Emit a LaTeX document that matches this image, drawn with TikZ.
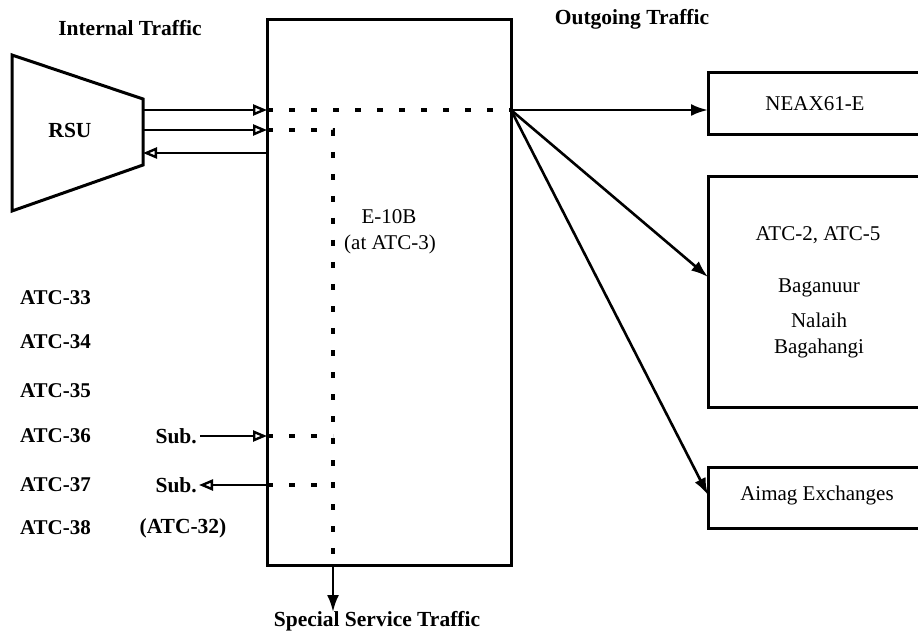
\documentclass[tikz,border=0pt]{standalone}
\usepackage{fontspec}
\setmainfont{Liberation Serif}
\usetikzlibrary{arrows.meta}

\begin{document}
\begin{tikzpicture}[x=1pt,y=-1pt,
  lbl/.style={font=\fontsize{21}{24}\selectfont, inner sep=0pt},
  hdr/.style={font=\fontsize{21.5}{24}\selectfont\bfseries, inner sep=0pt},
  atc/.style={font=\fontsize{21}{24}\selectfont\bfseries, inner sep=0pt, anchor=east},
  frame/.style={line width=3pt, line join=miter},
  flow/.style={line width=2.4pt, -{Triangle[open, length=14pt, width=11pt, line width=2.4pt]}},
  outflow/.style={line width=2.6pt, -{Latex[length=17pt, width=12pt]}},
  dots/.style={line width=3.5pt, dash pattern=on 6pt off 16pt}
]
\useasboundingbox (0,0) rectangle (918,644);
\fill[white] (0,0) rectangle (918,644);

% switching exchange E-10B
\node[frame, draw, minimum width=244pt, minimum height=545pt, inner sep=0pt] (sw) at (389,292.5) {};
\node[lbl] (swname) at (389,217) {E-10B};
\node[lbl] (swsite) at (390,244) {(at ATC-3)};

% remote subscriber unit
\draw[frame] (12,55) -- (143,99) -- (143,165) -- (12,211) -- cycle;
\node[hdr] (rsu) at (70,130) {RSU};

% headings
\node[hdr] (intl) at (130,28) {Internal Traffic};
\node[hdr] (outg) at (632,19) {Outgoing Traffic};
\node[hdr] (spec) at (377,621) {Special Service Traffic};

% destination exchanges (open to the right)
\draw[frame] (918,73) -- (708,73) -- (708,135) -- (918,135);
\draw[frame] (918,177) -- (708,177) -- (708,407) -- (918,407);
\draw[frame] (918,467) -- (708,467) -- (708,528) -- (918,528);
\node[lbl] (neax) at (815,104) {NEAX61-E};
\node[lbl] (atc25) at (818,235) {ATC-2, ATC-5};
\node[lbl] (bag) at (819,288) {Baganuur};
\node[lbl] (nal) at (819,320) {Nalaih};
\node[lbl] (bgh) at (819,348) {Bagahangi};
\node[lbl] (aimag) at (817,495) {Aimag Exchanges};

% local exchanges
\node[atc] (a33) at (91,298) {ATC-33};
\node[atc] (a34) at (91,342) {ATC-34};
\node[atc] (a35) at (91,391) {ATC-35};
\node[atc] (a36) at (91,436) {ATC-36};
\node[atc] (a37) at (91,485) {ATC-37};
\node[atc] (a38) at (91,528) {ATC-38};
\node[hdr] (a32) at (183,528) {(ATC-32)};
\node[hdr, anchor=east] (sub1) at (197,436) {Sub.};
\node[hdr, anchor=east] (sub2) at (197,485) {Sub.};

% connection points
\coordinate (r1) at (143,110);
\coordinate (r2) at (143,130);
\coordinate (r3) at (143,153);
\coordinate (s1) at (267,110);
\coordinate (s2) at (267,130);
\coordinate (s3) at (267,153);
\coordinate (hub) at (511,110);
\coordinate (turn) at (333,130);
\coordinate (down) at (333,565);
\coordinate (exit) at (333,612);
\coordinate (u1) at (267,436);
\coordinate (u2) at (267,485);
\coordinate (v1) at (333,436);
\coordinate (v2) at (333,485);
\coordinate (neaxin) at (708,110);
\coordinate (atcin) at (708,277);
\coordinate (aimagin) at (708,495);

% internal traffic to and from the RSU
\draw[flow] (r1) -- (s1);
\draw[flow] (r2) -- (s2);
\draw[flow] (s3) -- (r3);

% routes through the switch
\draw[dots] (s1) -- (hub);
\draw[dots] (s2) -- (turn) -- (down);
\draw[dots] (u1) -- (v1);
\draw[dots] (u2) -- (v2);
\draw[outflow] (down) -- (exit);

% subscriber lines
\draw[flow, line width=1.8pt] (sub1.east) ++(3,0) -- (u1);
\draw[flow, line width=1.8pt] (u2) -- ([xshift=2pt]sub2.east);

% outgoing traffic
\draw[outflow] (hub) -- (neaxin);
\draw[outflow] (hub) -- (atcin);
\draw[outflow] (hub) -- (aimagin);
\end{tikzpicture}
\end{document}
